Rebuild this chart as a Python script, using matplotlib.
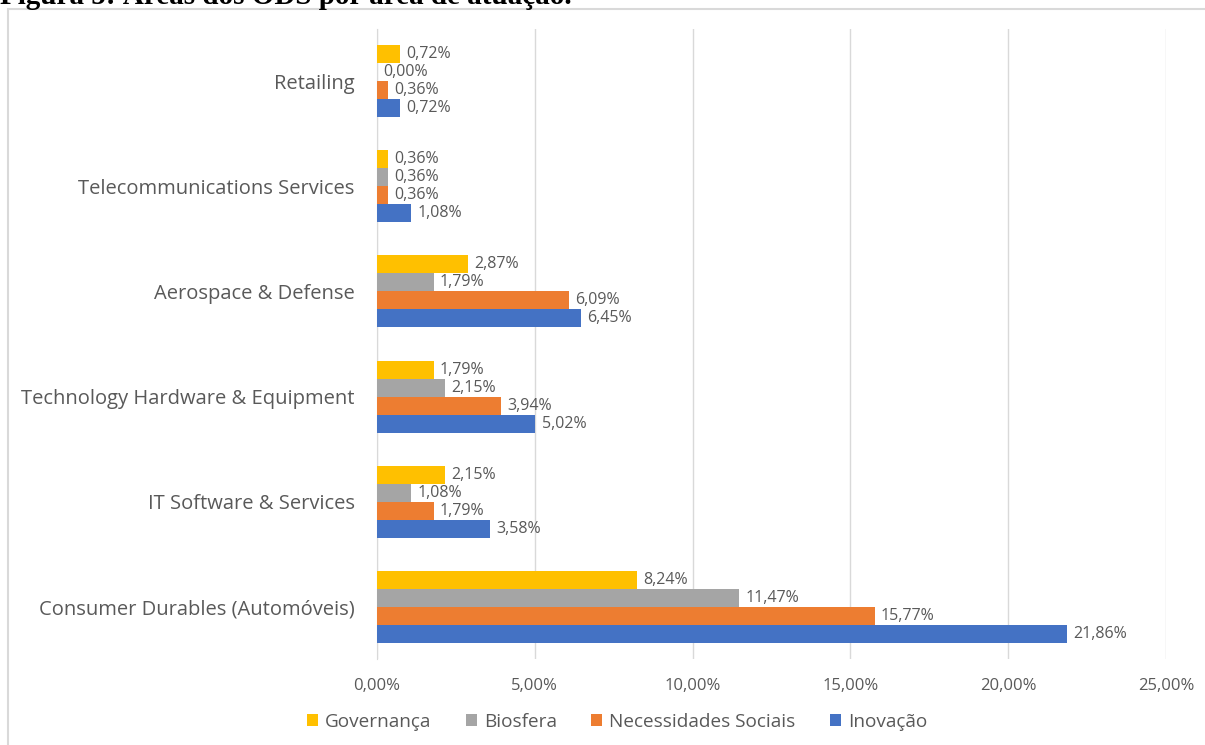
import numpy as np
import matplotlib.pyplot as plt
from matplotlib.patches import Rectangle

# Dados (em %)
categorias = ['Consumer Durables (Automóveis)', 'IT Software & Services',
              'Technology Hardware & Equipment', 'Aerospace & Defense',
              'Telecommunications Services', 'Retailing']
governanca = [8.24, 2.15, 1.79, 2.87, 0.36, 0.72]
biosfera = [11.47, 1.08, 2.15, 1.79, 0.36, 0.00]
necessidades = [15.77, 1.79, 3.94, 6.09, 0.36, 0.36]
inovacao = [21.86, 3.58, 5.02, 6.45, 1.08, 0.72]
ticks = [0, 5, 10, 15, 20, 25]

series = [('Governança', governanca, '#FFC000'),
          ('Biosfera', biosfera, '#A5A5A5'),
          ('Necessidades Sociais', necessidades, '#ED7D31'),
          ('Inovação', inovacao, '#4472C4')]

plt.rcParams['font.family'] = ['Open Sans', 'DejaVu Sans']
texto = '#595959'

fig = plt.figure(figsize=(12.05, 7.45), dpi=100)
ax = fig.add_axes([0.3129, 0.1148, 0.6547, 0.8469])

# moldura e título cortado
fig.patches.append(Rectangle((8 / 1205, -0.05), 1.1, 0.05 + (745 - 9) / 745,
                             transform=fig.transFigure, fill=False,
                             edgecolor='#D9D9D9', linewidth=1.5))
fig.text(0.0, 1.008, 'Figura 5: Áreas dos ODS por área de atuação.',
         family='Liberation Serif', fontweight='bold', fontsize=21,
         va='center', ha='left', color='black')

y = np.arange(len(categorias))
h = 18 / 105
for i, (nome, vals, cor) in enumerate(series):
    pos = y + (1.5 - i) * h
    ax.barh(pos, vals, height=h, color=cor, label=nome, zorder=3)
    for p, v in zip(pos, vals):
        ax.text(v + 0.2, p, f'{v:.2f}%'.replace('.', ','), va='center',
                ha='left', fontsize=11.5, color=texto)

ax.set_xlim(0, 25)
ax.set_ylim(-0.5, len(categorias) - 0.5)
ax.set_xticks(ticks)
ax.set_xticklabels([f'{t:.2f}%'.replace('.', ',') for t in ticks])
ax.set_yticks(y)
ax.set_yticklabels(categorias)
ax.tick_params(axis='x', length=0, labelsize=12, colors=texto, pad=13)
ax.tick_params(axis='y', length=0, labelsize=14.5, colors=texto, pad=16)
ax.grid(axis='x', color='#D9D9D9', linewidth=1, zorder=0)
for s in ['top', 'right', 'bottom']:
    ax.spines[s].set_visible(False)
ax.spines['left'].set_color('#D9D9D9')

ax.legend(loc='center', bbox_to_anchor=(0.512, 0.031), bbox_transform=fig.transFigure,
          ncol=4, frameon=False, fontsize=13.7, handlelength=0.6, handleheight=0.6,
          handletextpad=0.35, columnspacing=1.8, labelcolor=texto)

fig.savefig('out.png', dpi=100)
